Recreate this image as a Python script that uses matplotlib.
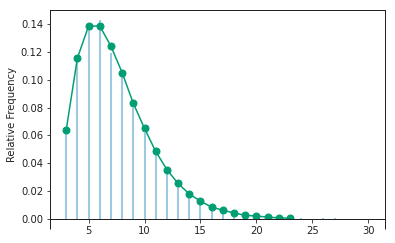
import matplotlib
matplotlib.use("Agg")
import matplotlib.pyplot as plt
import numpy as np

# empirical frequencies (stems)
stem_x = [3, 4, 5, 6, 7, 8, 9, 10, 11, 12, 13, 14, 15, 16, 17, 18, 19, 20, 21, 22, 23, 24, 26, 27]
stem_y = [0.062, 0.113, 0.137, 0.143, 0.119, 0.102, 0.080, 0.062, 0.046, 0.034, 0.024, 0.017,
          0.012, 0.007, 0.005, 0.003, 0.002, 0.0015, 0.001, 0.0008, 0.0005, 0.0005, 0.0004, 0.0004]

# model probabilities (line with markers)
line_x = [3, 4, 5, 6, 7, 8, 9, 10, 11, 12, 13, 14, 15, 16, 17, 18, 19, 20, 21, 22, 23]
line_y = [0.064, 0.1155, 0.1385, 0.1385, 0.124, 0.105, 0.083, 0.065, 0.0485, 0.0355, 0.0255,
          0.018, 0.0128, 0.0085, 0.0063, 0.0043, 0.0027, 0.0021, 0.0014, 0.0008, 0.0006]

xlim = (1.55, 31.5)

fig = plt.figure(figsize=(395/72, 243/72), dpi=72)
ax = fig.add_axes([50/395, 1 - 219/243, 335/395, 209/243])

ax.vlines(stem_x, 0, stem_y, colors="#9ecae1", linewidth=2.1)
ax.plot(line_x, line_y, color="#029e73", marker="o", markersize=7, linewidth=1.5)

ax.set_xlim(*xlim)
ax.set_ylim(0, 0.15)
ax.set_xticks([5, 10, 15, 20, 25, 30])
ax.set_yticks(np.arange(0, 0.141, 0.02))
ax.set_xticks(list(xlim), minor=True)
ax.tick_params(axis="x", which="minor", length=10, width=1, color="#222222")
ax.tick_params(axis="both", which="major", length=3.5, labelsize=10, colors="#222222")
ax.set_ylabel("Relative Frequency", fontsize=10, color="#222222")
for s in ax.spines.values():
    s.set_color("#222222")
    s.set_linewidth(1)

fig.savefig("out.png", dpi=72)
